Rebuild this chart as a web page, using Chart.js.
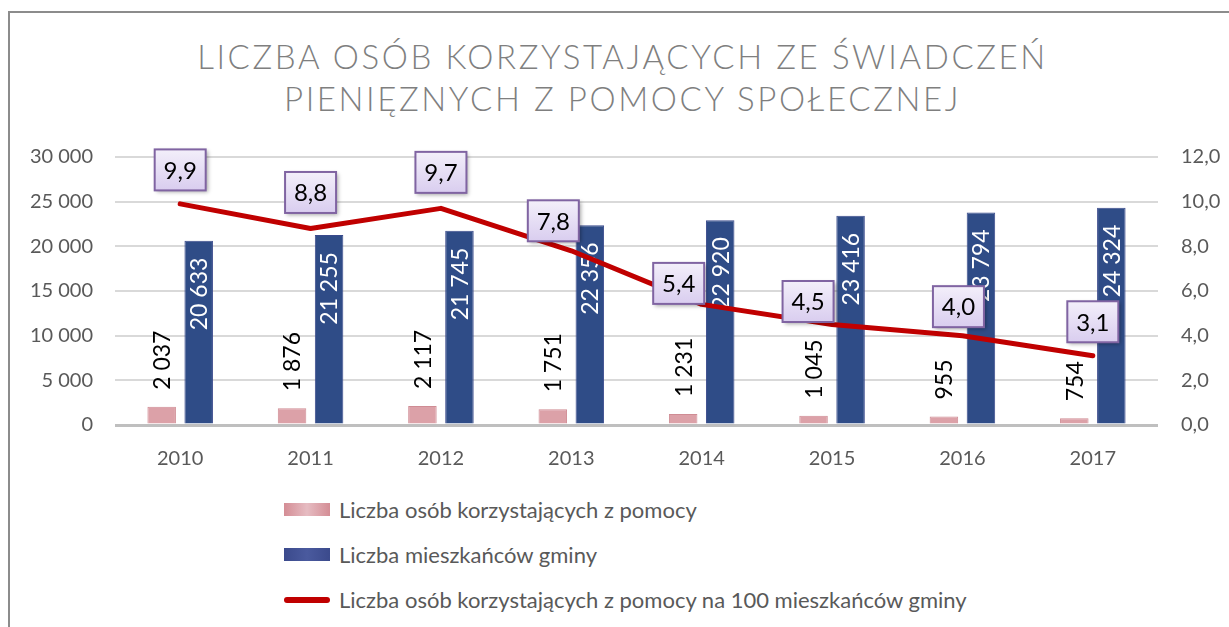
<!DOCTYPE html>
<html lang="pl">
  <head>
    <meta charset="UTF-8" />
    <meta name="viewport" content="width=device-width, initial-scale=1.0" />
    <title>Liczba osób korzystających ze świadczeń</title>
    <style>
      * {
        margin: 0;
        padding: 0;
        font-family: Lato, sans-serif;
      }
      body {
        background: white;
      }
      .card {
        position: relative;
        width: 1229px;
        height: 627px;
        overflow: hidden;
      }
      .frame {
        position: absolute;
        left: 8px;
        top: 11px;
        width: 1240px;
        height: 640px;
        border-left: 2px solid #8c8c8c;
        border-top: 2px solid #8c8c8c;
      }
      .title {
        position: absolute;
        left: 0;
        top: 35px;
        width: 1245px;
        text-align: center;
        font-weight: 300;
        font-size: 33px;
        line-height: 42px;
        letter-spacing: 2.6px;
        color: #7f7f7f;
      }
      .chartBox {
        position: absolute;
        left: 0;
        top: 130px;
        width: 1229px;
        height: 350px;
      }
      #legend {
        position: absolute;
        left: 284px;
        top: 487px;
        list-style: none;
      }
      #legend li {
        display: flex;
        align-items: center;
        height: 45px;
        font-size: 22px;
        color: #595959;
      }
      #legend .swatch {
        width: 46px;
        height: 13px;
        margin-right: 9px;
      }
    </style>
  </head>
  <body>
    <div class="card">
      <div class="frame"></div>
      <div class="title">LICZBA OSÓB KORZYSTAJĄCYCH ZE ŚWIADCZEŃ<br />PIENIĘZNYCH Z POMOCY SPOŁECZNEJ</div>
      <div class="chartBox">
        <canvas id="myChart"></canvas>
      </div>
      <ul id="legend"></ul>
    </div>

    <script src="https://cdn.jsdelivr.net/npm/chart.js"></script>
    <script>
      const years = ["2010", "2011", "2012", "2013", "2014", "2015", "2016", "2017"];
      const helped = [2037, 1876, 2117, 1751, 1231, 1045, 955, 754];
      const residents = [20633, 21255, 21745, 22356, 22920, 23416, 23794, 24324];
      const per100 = [9.9, 8.8, 9.7, 7.8, 5.4, 4.5, 4.0, 3.1];
      const leftTicks = [0, 5000, 10000, 15000, 20000, 25000, 30000];
      const rightTicks = [0, 2, 4, 6, 8, 10, 12];

      // small nudges for the boxed labels, relative to each point
      const rateLabelShift = [
        [0, -34], [0, -36], [0, -36], [-18, -30],
        [-23, -21], [-24, -23], [-4, -29], [0, -34],
      ];

      const thousands = (v) => String(v).replace(/\B(?=(\d{3})+(?!\d))/g, " ");
      const decimal = (v) => v.toFixed(1).replace(".", ",");

      const labelsPlugin = {
        id: "valueLabels",
        afterDatasetDraw(chart, args) {
          const ctx = chart.ctx;
          const meta = args.meta;
          if (meta.type !== "bar") return;
          const values = chart.data.datasets[args.index].data;
          ctx.save();
          ctx.font = "23px Lato, sans-serif";
          ctx.textBaseline = "middle";
          meta.data.forEach((bar, i) => {
            ctx.save();
            ctx.translate(bar.x, bar.y);
            ctx.rotate(-Math.PI / 2);
            if (args.index === 0) {
              ctx.fillStyle = "#000000";
              ctx.textAlign = "left";
              ctx.fillText(thousands(values[i]), 17, 1);
            } else {
              ctx.fillStyle = "#ffffff";
              ctx.textAlign = "right";
              ctx.fillText(thousands(values[i]), -17, 1);
            }
            ctx.restore();
          });
          ctx.restore();
        },
        afterDatasetsDraw(chart) {
          const ctx = chart.ctx;
          const meta = chart.getDatasetMeta(2);
          const values = chart.data.datasets[2].data;
          const w = 51;
          const h = 41;
          ctx.save();
          ctx.font = "24px Lato, sans-serif";
          ctx.textAlign = "center";
          ctx.textBaseline = "middle";
          meta.data.forEach((pt, i) => {
            const cx = pt.x + rateLabelShift[i][0];
            const cy = pt.y + rateLabelShift[i][1];
            const x = cx - w / 2;
            const y = cy - h / 2;
            ctx.save();
            ctx.shadowColor = "rgba(0,0,0,0.35)";
            ctx.shadowBlur = 4;
            ctx.shadowOffsetX = 2;
            ctx.shadowOffsetY = 2;
            const g = ctx.createLinearGradient(0, y, 0, y + h);
            g.addColorStop(0, "#f3effa");
            g.addColorStop(1, "#d9cdef");
            ctx.fillStyle = g;
            ctx.fillRect(x, y, w, h);
            ctx.restore();
            ctx.strokeStyle = "#8064a2";
            ctx.lineWidth = 2;
            ctx.strokeRect(x, y, w, h);
            ctx.fillStyle = "#000000";
            ctx.fillText(decimal(values[i]), cx, cy + 1);
          });
          ctx.restore();
        },
      };

      const tickFont = { family: "Lato, sans-serif", size: 20 };

      // tick padding would otherwise push the plot area down
      const trimPadding = (scale) => {
        scale.paddingTop = 12;
        scale.paddingBottom = 12;
      };

      const ctx = document.getElementById("myChart");
      const myChart = new Chart(ctx, {
        type: "bar",
        data: {
          labels: years,
          datasets: [
            {
              label: "Liczba osób korzystających z pomocy",
              data: helped,
              yAxisID: "y",
              backgroundColor: "#dca1a8",
              borderColor: "#cf8c94",
              borderWidth: 1,
              categoryPercentage: 0.568,
              barPercentage: 0.77,
              order: 1,
            },
            {
              label: "Liczba mieszkańców gminy",
              data: residents,
              yAxisID: "y",
              backgroundColor: "#2f4c87",
              borderColor: "#3a4a8c",
              borderWidth: 1,
              categoryPercentage: 0.568,
              barPercentage: 0.77,
              order: 1,
            },
            {
              type: "line",
              label: "Liczba osób korzystających z pomocy na 100 mieszkańców gminy",
              data: per100,
              yAxisID: "y1",
              borderColor: "#c00000",
              backgroundColor: "#c00000",
              borderWidth: 5,
              borderCapStyle: "round",
              borderJoinStyle: "round",
              pointRadius: 0,
              tension: 0,
              order: 0,
            },
          ],
        },
        options: {
          responsive: true,
          maintainAspectRatio: false,
          animation: false,
          layout: { padding: { top: 27, left: 0, right: 0, bottom: 0 } },
          plugins: {
            legend: { display: false },
            tooltip: { enabled: false },
          },
          scales: {
            x: {
              grid: { display: false, drawTicks: false },
              border: { display: false },
              ticks: { font: tickFont, color: "#595959", padding: 22 },
              afterFit: (scale) => {
                scale.height = 55;
              },
            },
            y: {
              position: "left",
              min: 0,
              max: 30000,
              afterBuildTicks: (scale) => {
                scale.ticks = leftTicks.map((v) => ({ value: v }));
              },
              ticks: {
                font: tickFont,
                color: "#595959",
                padding: 22,
                callback: (value) => thousands(value),
              },
              grid: {
                drawTicks: false,
                color: (c) => (c.tick && c.tick.value === 0 ? "#bfbfbf" : "#d9d9d9"),
                lineWidth: (c) => (c.tick && c.tick.value === 0 ? 3 : 2),
              },
              border: { display: false },
              afterFit: (scale) => {
                scale.width = 115;
                trimPadding(scale);
              },
            },
            y1: {
              position: "right",
              min: 0,
              max: 12,
              afterBuildTicks: (scale) => {
                scale.ticks = rightTicks.map((v) => ({ value: v }));
              },
              ticks: {
                font: tickFont,
                color: "#595959",
                padding: 23,
                callback: (value) => decimal(value),
              },
              grid: { drawOnChartArea: false, drawTicks: false },
              border: { display: false },
              afterFit: (scale) => {
                scale.width = 71;
                trimPadding(scale);
              },
            },
          },
        },
        plugins: [labelsPlugin],
      });

      // legend built from the datasets
      const legendEl = document.getElementById("legend");
      const swatches = [
        "linear-gradient(90deg, #d48d95, #e6bcc2 50%, #d48d95)",
        "linear-gradient(90deg, #3b4a8c, #4a5a9e 50%, #3b4a8c)",
        "",
      ];
      myChart.data.datasets.forEach((ds, i) => {
        const li = document.createElement("li");
        const sw = document.createElement("span");
        sw.className = "swatch";
        if (ds.type === "line") {
          sw.style.height = "6px";
          sw.style.borderRadius = "3px";
          sw.style.background = ds.borderColor;
        } else {
          sw.style.background = swatches[i];
        }
        li.appendChild(sw);
        li.appendChild(document.createTextNode(ds.label));
        legendEl.appendChild(li);
      });
    </script>
  </body>
</html>
